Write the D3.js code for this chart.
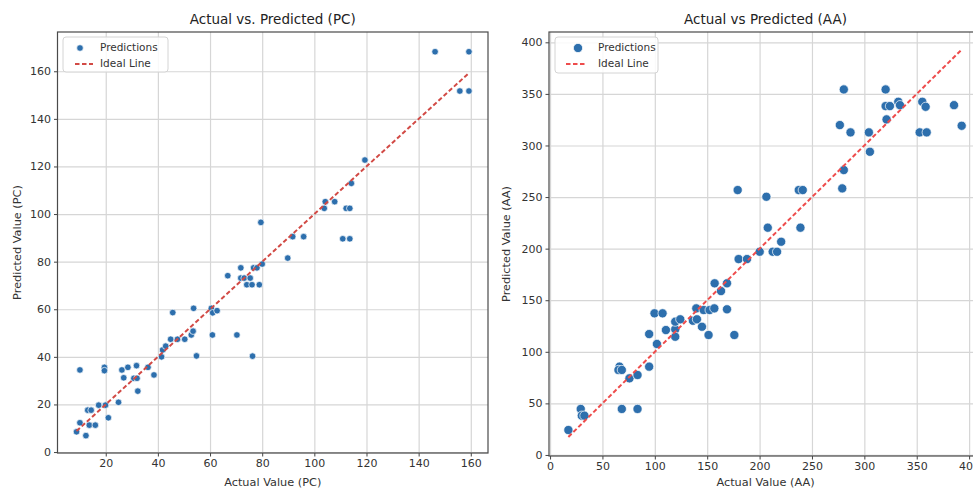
<!DOCTYPE html>
<html>
<head>
<meta charset="utf-8">
<script src="https://cdn.jsdelivr.net/npm/d3@7"></script>
<style>
  body { margin: 0; background: #fff; }
  svg { display: block; font-family: "DejaVu Sans", sans-serif; }
</style>
</head>
<body>
<div id="chart"></div>
<script>
/* DATA */
// PC panel: actual vs predicted values
const pcActual = [8.8, 12.4, 10.1, 13.7, 16, 13.1, 14.4, 17.3, 19.9, 21, 24.9, 10.1, 19.5, 19.5, 26.2,
  28.5, 31.8, 36.2, 26.9, 30.8, 32, 38.5, 32.3, 41.4, 41.8, 43, 44.9, 47.5, 50.3, 52.8, 53.5, 54.8,
  45.7, 53.7, 60.5, 61, 62.7, 60.9, 70.3, 76.3, 66.8, 71.8, 76.7, 78, 80, 71.8, 73.1, 75.4, 74.1,
  76.1, 78.9, 89.8, 79.5, 91.7, 95.9, 110.9, 113.6, 103.8, 112.2, 113.6, 104.2, 107.8, 114.2, 119.4,
  146.3, 159.3, 155.8, 159.3];
const pcPredicted = [8.5, 6.9, 12.3, 11.3, 11.3, 17.6, 17.6, 19.7, 19.7, 14.4, 20.9, 34.5, 35.6, 34.2, 34.5,
  35.6, 36.3, 35.6, 31.2, 31, 31, 32.4, 25.6, 40, 42.9, 44.5, 47.4, 47.4, 47.4, 49.2, 50.8, 40.4,
  58.6, 60.4, 60.4, 58.5, 59.4, 49.2, 49.2, 40.3, 74.1, 77.4, 77.4, 77.4, 79, 73.1, 73.1, 73.1, 70.3,
  70.3, 70.3, 81.5, 96.5, 90.5, 90.5, 89.6, 89.6, 102.4, 102.4, 102.4, 105.2, 105.2, 112.9, 122.7,
  168.2, 168.2, 151.7, 151.7];

// AA panel
const aaActual = [17.5, 29.3, 30.3, 32.8, 68.5, 83.5, 66.3, 65.3, 68.5, 75.8, 83.5, 94.6, 94.6, 102,
  99.7, 107.4, 110.6, 119.5, 119.5, 124.3, 119.5, 136.4, 140.2, 139.6, 145, 146.6, 152.3, 156.8,
  151.3, 168.9, 175.9, 157.1, 168.9, 163.2, 180, 188, 200.1, 212.5, 216.7, 220.6, 207.8, 239,
  179.1, 206.5, 237.4, 241.2, 278.9, 280.4, 276.6, 286.8, 304.3, 305.3, 280.4, 320.3, 320.3, 324.4,
  332.4, 334, 321.2, 355.3, 358.5, 352.8, 359.5, 385.6, 392.9];
const aaPredicted = [24.2, 44.6, 38.1, 38.1, 44.6, 44.6, 85.6, 82.4, 82.4, 74.3, 77.5, 85.6, 117.2, 107.6,
  137.3, 137.3, 121.1, 121.8, 129.2, 131.5, 114.6, 130.1, 131.5, 142.1, 124.3, 140.5, 140.5, 142.1,
  116.3, 141.2, 116.3, 166.4, 166.4, 158.9, 189.9, 189.9, 197, 197, 197, 206.7, 220.3, 220.3,
  256.8, 250.3, 256.8, 256.8, 258.4, 276.2, 319.8, 312.7, 312.7, 293.9, 354.3, 354.3, 338.2, 338.2,
  342.4, 339.1, 325.3, 342.4, 337.5, 312.7, 312.7, 339.1, 319.1];

const pcXTicks = [20, 40, 60, 80, 100, 120, 140, 160];
const pcYTicks = [0, 20, 40, 60, 80, 100, 120, 140, 160];
const aaTicks = [0, 50, 100, 150, 200, 250, 300, 350, 400];

/* LAYOUT */
const width = 973,
  height = 491;

const panels = [
  {
    title: "Actual vs. Predicted (PC)",
    xLabel: "Actual Value (PC)",
    yLabel: "Predicted Value (PC)",
    actual: pcActual,
    predicted: pcPredicted,
    xTicks: pcXTicks,
    yTicks: pcYTicks,
    xDomain: [1.5, 166.6],
    yDomain: [-0.4, 176.5],
    left: 57.5, right: 488, top: 32, bottom: 453,
    radius: 3.3,
    lineColor: "#d24a45",
    yLabelX: 18,
    legend: { x: 5.5, w: 105, h: 35, markerX: 17 }
  },
  {
    title: "Actual vs Predicted (AA)",
    xLabel: "Actual Value (AA)",
    yLabel: "Predicted Value (AA)",
    actual: aaActual,
    predicted: aaPredicted,
    xTicks: aaTicks,
    yTicks: aaTicks,
    xDomain: [-1, 412.3],
    yDomain: [-1, 410],
    left: 549, right: 982, top: 32, bottom: 456,
    radius: 4.6,
    lineColor: "#ee4c4c",
    yLabelX: 507,
    legend: { x: 6, w: 103, h: 36, markerX: 23 }
  }
];

const svg = d3
  .select("#chart")
  .append("svg")
  .attr("width", width)
  .attr("height", height);

panels.forEach(drawPanel);

function drawPanel(p) {
  const g = svg.append("g");

  const xScale = d3.scaleLinear().domain(p.xDomain).range([p.left, p.right]);
  const yScale = d3.scaleLinear().domain(p.yDomain).range([p.bottom, p.top]);

  // grid
  g.append("g")
    .attr("class", "grid")
    .attr("transform", `translate(0,${p.bottom})`)
    .call(d3.axisBottom(xScale).tickValues(p.xTicks).tickSize(-(p.bottom - p.top)).tickFormat(""))
    .call(s => s.select(".domain").remove())
    .selectAll("line")
    .attr("stroke", "#d6d6d6")
    .attr("stroke-width", 1.2);

  g.append("g")
    .attr("class", "grid")
    .attr("transform", `translate(${p.left},0)`)
    .call(d3.axisLeft(yScale).tickValues(p.yTicks).tickSize(-(p.right - p.left)).tickFormat(""))
    .call(s => s.select(".domain").remove())
    .selectAll("line")
    .attr("stroke", "#d6d6d6")
    .attr("stroke-width", 1.2);

  // axes
  const xAxis = g.append("g")
    .attr("transform", `translate(0,${p.bottom})`)
    .call(d3.axisBottom(xScale).tickValues(p.xTicks).tickSize(3.5).tickPadding(3));
  const yAxis = g.append("g")
    .attr("transform", `translate(${p.left},0)`)
    .call(d3.axisLeft(yScale).tickValues(p.yTicks).tickSize(3.5).tickPadding(3));

  [xAxis, yAxis].forEach(a => {
    a.select(".domain").remove();
    a.selectAll("line").attr("stroke", "#444");
    a.selectAll("text")
      .attr("fill", "#333")
      .style("font-size", "11px")
      .style("font-family", "DejaVu Sans, sans-serif");
  });

  // spines
  g.append("rect")
    .attr("x", p.left)
    .attr("y", p.top)
    .attr("width", p.right - p.left)
    .attr("height", p.bottom - p.top)
    .attr("fill", "none")
    .attr("stroke", "#4a4a4a")
    .attr("stroke-width", 1.2);

  // points
  const points = p.actual.map((a, i) => ({ actual: a, predicted: p.predicted[i] }));
  g.append("g")
    .selectAll("circle")
    .data(points)
    .join("circle")
    .attr("cx", d => xScale(d.actual))
    .attr("cy", d => yScale(d.predicted))
    .attr("r", p.radius)
    .attr("fill", "#2d6fad")
    .attr("stroke", "#fff")
    .attr("stroke-width", 0.7);

  // ideal line
  const ext = d3.extent(p.actual);
  const lineFunc = d3.line().x(d => xScale(d)).y(d => yScale(d));
  g.append("path")
    .attr("d", lineFunc(ext))
    .attr("fill", "none")
    .attr("stroke", p.lineColor)
    .attr("stroke-width", 2)
    .attr("stroke-dasharray", "4.5,2.5");

  // title & labels
  g.append("text")
    .attr("x", (p.left + Math.min(p.right, width + 9)) / 2)
    .attr("y", 20)
    .attr("text-anchor", "middle")
    .attr("dominant-baseline", "middle")
    .attr("fill", "#222")
    .style("font-size", "13.5px")
    .text(p.title);

  g.append("text")
    .attr("x", (p.left + p.right) / 2)
    .attr("y", 483)
    .attr("text-anchor", "middle")
    .attr("dominant-baseline", "middle")
    .attr("fill", "#333")
    .style("font-size", "11.3px")
    .text(p.xLabel);

  g.append("text")
    .attr("transform", `translate(${p.yLabelX},${(p.top + p.bottom) / 2}) rotate(-90)`)
    .attr("text-anchor", "middle")
    .attr("dominant-baseline", "middle")
    .attr("fill", "#333")
    .style("font-size", "11.3px")
    .text(p.yLabel);

  // legend
  const lg = g.append("g").attr("transform", `translate(${p.left + p.legend.x},${p.top + 5})`);
  lg.append("rect")
    .attr("width", p.legend.w)
    .attr("height", p.legend.h)
    .attr("rx", 3)
    .attr("fill", "#fff")
    .attr("fill-opacity", 0.85)
    .attr("stroke", "#d4d4d4");
  lg.append("circle")
    .attr("cx", p.legend.markerX)
    .attr("cy", 11)
    .attr("r", p.radius)
    .attr("fill", "#2d6fad")
    .attr("stroke", "#fff")
    .attr("stroke-width", 0.7);
  lg.append("line")
    .attr("x1", p.legend.markerX - 5 - (p.radius > 4 ? 7 : 0))
    .attr("x2", p.legend.markerX + 13 - (p.radius > 4 ? 4 : 0))
    .attr("y1", 27)
    .attr("y2", 27)
    .attr("stroke", p.lineColor)
    .attr("stroke-width", 2)
    .attr("stroke-dasharray", "4.5,2.5");
  lg.selectAll("text.lbl")
    .data(["Predictions", "Ideal Line"])
    .join("text")
    .attr("class", "lbl")
    .attr("x", p.legend.markerX + 20)
    .attr("y", (d, i) => 10.5 + i * 16.5)
    .attr("dominant-baseline", "middle")
    .attr("fill", "#333")
    .style("font-size", "10.5px")
    .text(d => d);
}
</script>
</body>
</html>
